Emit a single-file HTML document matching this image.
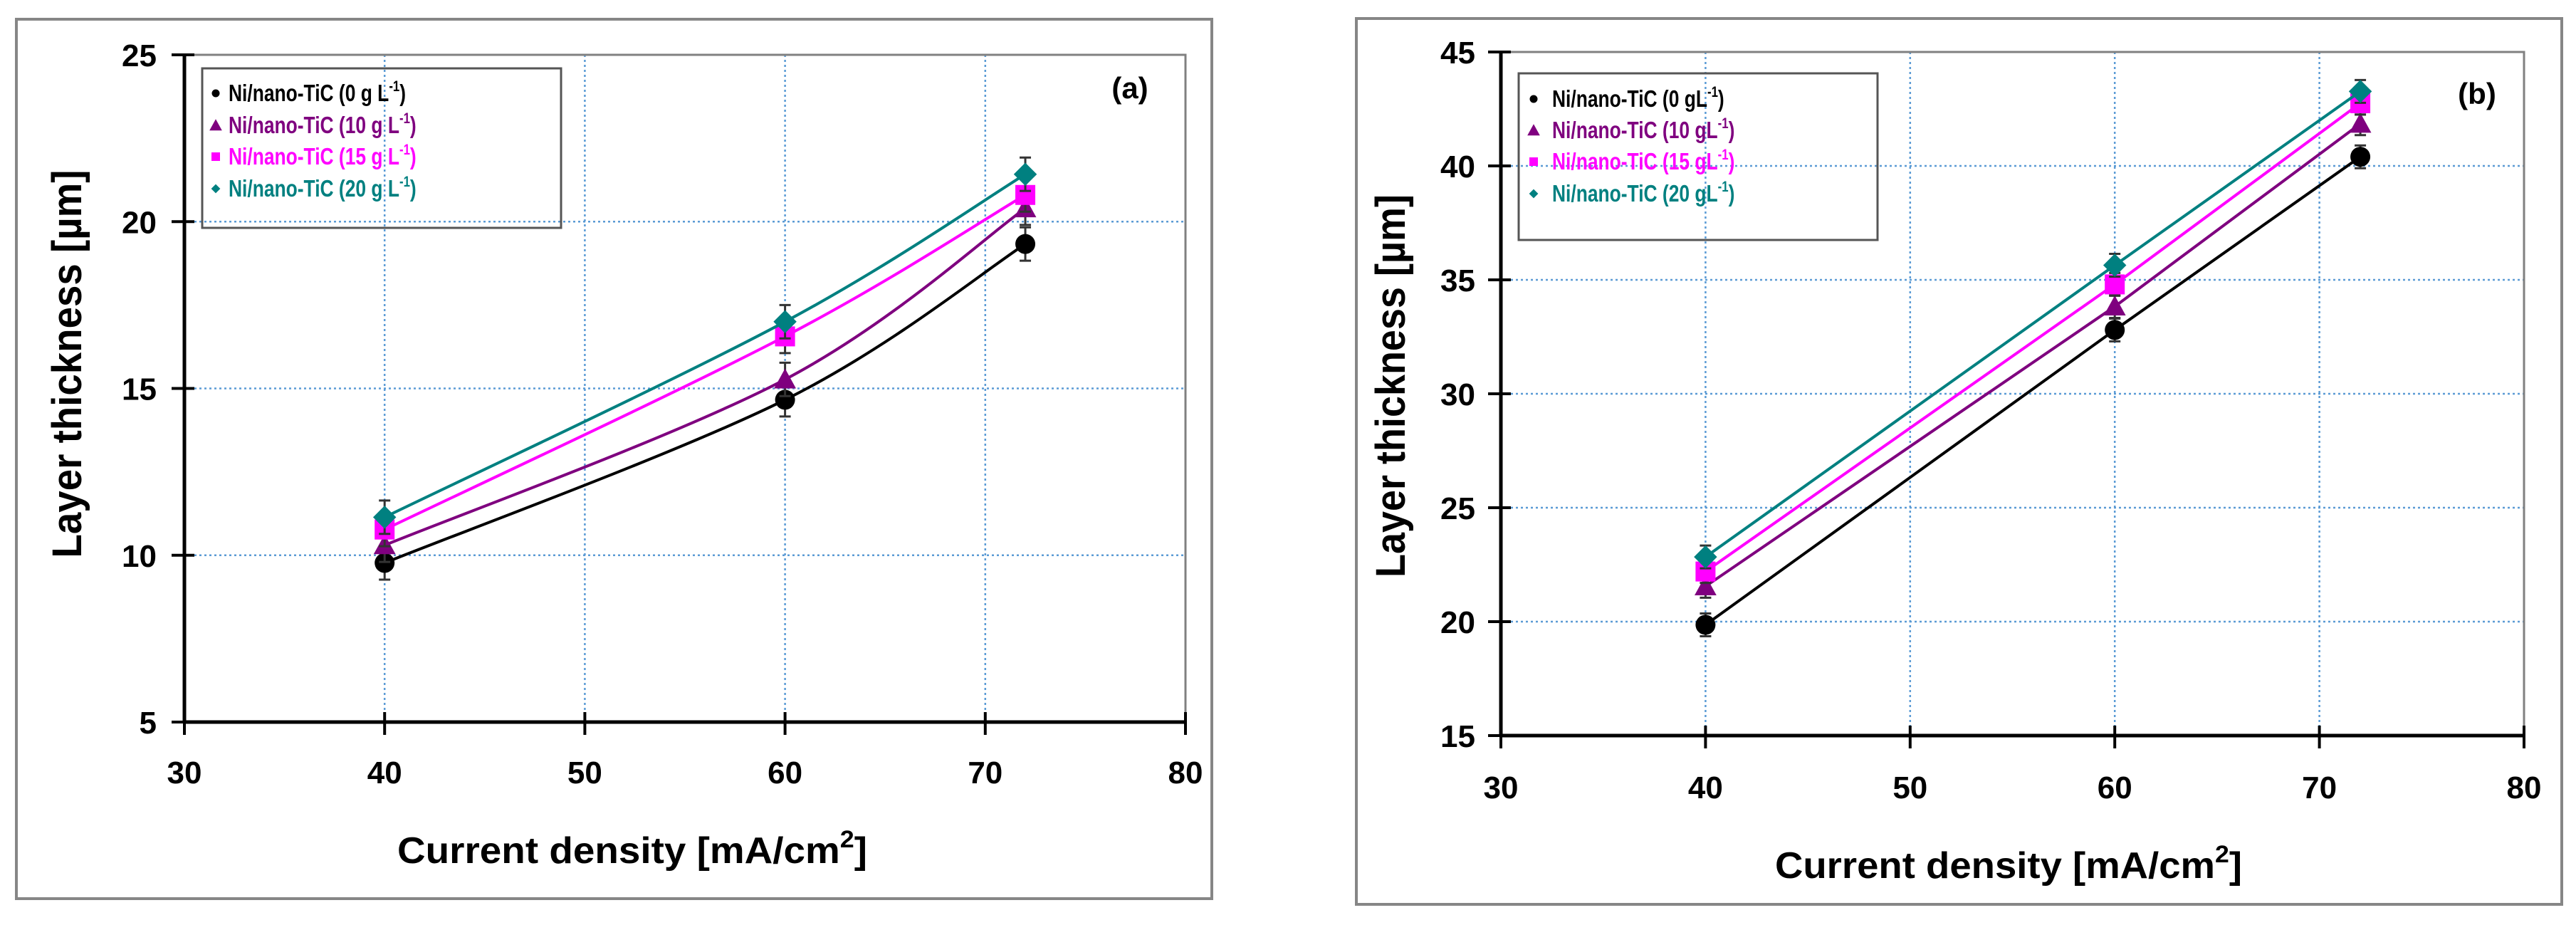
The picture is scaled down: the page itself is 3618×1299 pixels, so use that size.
<!DOCTYPE html>
<html><head><meta charset="utf-8">
<style>
html,body{margin:0;padding:0;background:#fff;}
svg{display:block;font-family:"Liberation Sans",sans-serif;}
</style></head>
<body>
<svg id="chart" width="3618" height="1299" viewBox="0 0 3618 1299" xmlns="http://www.w3.org/2000/svg"></svg>
<script>
// ---- data ----
const xValues = [40, 60, 72];
const seriesNames = ["0", "10", "15", "20"];
const seriesColors = ["#000000", "#7f007f", "#ff00ff", "#008080"];
const seriesMarkers = ["circle", "triangle", "square", "diamond"];
const panelAValues0 = [9.77, 14.66, 19.33];
const panelAValues10 = [10.3, 15.27, 20.4];
const panelAValues15 = [10.77, 16.56, 20.8];
const panelAValues20 = [11.14, 17.0, 21.42];
const panelBValues0 = [19.86, 32.8, 40.4];
const panelBValues10 = [21.55, 33.83, 41.85];
const panelBValues15 = [22.2, 34.8, 42.75];
const panelBValues20 = [22.84, 35.64, 43.27];
const errorA = [0.5, 0.5, 0.5, 0.5];
const errorB = [0.5, 0.5, 0.5, 0.5];
const xTicks = [30, 40, 50, 60, 70, 80];
const yTicksA = [5, 10, 15, 20, 25];
const yTicksB = [15, 20, 25, 30, 35, 40, 45];

const NS = "http://www.w3.org/2000/svg";
const svg = document.getElementById("chart");
function mk(tag, attrs, parent) {
  const e = document.createElementNS(NS, tag);
  for (const k in attrs) e.setAttribute(k, attrs[k]);
  (parent || svg).appendChild(e);
  return e;
}

function drawPanel(p) {
  const g = mk("g", {});
  
  
  const xs = v => p.x0 + (v - p.xmin) / (p.xmax - p.xmin) * (p.x1 - p.x0);
  const ys = v => p.y0 - (v - p.ymin) / (p.ymax - p.ymin) * (p.y0 - p.y1);
  // frame
  const fr = mk("rect", {x: p.fx0, y: p.fy0, width: p.fx1 - p.fx0, height: p.fy1 - p.fy0, fill: "none", stroke: "#868686", "stroke-width": 4}, g);
  
  
  // gridlines
  xTicks.forEach(t => {
    if (t === p.xmin || t === p.xmax) return;
    const l = mk("line", {x1: xs(t), x2: xs(t), y1: p.y1, y2: p.y0, stroke: "#5b9bd5", "stroke-width": 2.5, "stroke-dasharray": "3 4"}, g);
    
    
  });
  p.yTicks.forEach(t => {
    if (t === p.ymin || t === p.ymax) return;
    const l = mk("line", {x1: p.x0, x2: p.x1, y1: ys(t), y2: ys(t), stroke: "#5b9bd5", "stroke-width": 2.5, "stroke-dasharray": "3 4"}, g);
    
    
  });
  // plot border top/right
  const pb = mk("polyline", {points: `${p.x0},${p.y1} ${p.x1},${p.y1} ${p.x1},${p.y0}`, fill: "none", stroke: "#808080", "stroke-width": 3}, g);
  
  
  // axes
  const ax = mk("line", {x1: p.x0, x2: p.x1, y1: p.y0, y2: p.y0, stroke: "#000", "stroke-width": 5}, g);
  
  
  const ay = mk("line", {x1: p.x0, x2: p.x0, y1: p.y1, y2: p.y0, stroke: "#000", "stroke-width": 5}, g);
  
  
  xTicks.forEach(t => {
    const tk = mk("line", {x1: xs(t), x2: xs(t), y1: p.y0 - 14, y2: p.y0 + 18, stroke: "#000", "stroke-width": 4}, g);
    
    
    const tl = mk("text", {x: xs(t), y: p.xLabelY, "text-anchor": "middle", "font-size": 44, "font-weight": "bold"}, g);
    tl.textContent = t;
    
    
  });
  p.yTicks.forEach(t => {
    const tk = mk("line", {x1: p.x0 - 18, x2: p.x0 + 14, y1: ys(t), y2: ys(t), stroke: "#000", "stroke-width": 4}, g);
    
    
    const tl = mk("text", {x: p.yLabelX, y: ys(t) + 16, "text-anchor": "end", "font-size": 44, "font-weight": "bold"}, g);
    tl.textContent = t;
    
    
  });
  // axis titles
  const xt = mk("text", {x: p.xtX, y: p.xtY, "font-size": 52, "font-weight": "bold", textLength: p.xtLen, lengthAdjust: "spacingAndGlyphs"}, g);
  xt.innerHTML = 'Current density [mA/cm<tspan dy="-22" font-size="34">2</tspan><tspan dy="22">]</tspan>';
  
  
  const yt = mk("text", {x: 0, y: 0, "font-size": 58, "font-weight": "bold", "text-anchor": "middle", textLength: p.ytLen, lengthAdjust: "spacingAndGlyphs", transform: `translate(${p.ytX},${p.ytY}) rotate(-90)`}, g);
  yt.textContent = "Layer thickness [\u00b5m]";
  
  
  // panel label
  const pl = mk("text", {x: p.labX, y: p.labY, "font-size": 42, "font-weight": "bold", "text-anchor": "middle"}, g);
  pl.textContent = p.label;
  
  

  function marker(kind, cx, cy, col, s, parent) {
    let m;
    if (kind === "circle") m = mk("circle", {cx, cy, r: s * 0.5, fill: col}, parent);
    else if (kind === "square") m = mk("rect", {x: cx - s / 2, y: cy - s / 2, width: s, height: s, fill: col}, parent);
    else if (kind === "triangle") m = mk("polygon", {points: `${cx},${cy - s * 0.55} ${cx + s * 0.55},${cy + s * 0.45} ${cx - s * 0.55},${cy + s * 0.45}`, fill: col}, parent);
    else m = mk("polygon", {points: `${cx},${cy - s * 0.58} ${cx + s * 0.58},${cy} ${cx},${cy + s * 0.58} ${cx - s * 0.58},${cy}`, fill: col}, parent);
    return m;
  }
  // series
  p.series.forEach((vals, i) => {
    const sg = mk("g", {}, g);
    
    
    const pts = vals.map((v, j) => [xs(xValues[j]), ys(v)]);
    let d = `M${pts[0][0]},${pts[0][1]}`;
    if (p.smooth) {
      for (let j = 0; j < pts.length - 1; j++) {
        const p0 = pts[Math.max(j - 1, 0)], p1 = pts[j], p2 = pts[j + 1], p3 = pts[Math.min(j + 2, pts.length - 1)];
        const c1 = [p1[0] + (p2[0] - p0[0]) / 6, p1[1] + (p2[1] - p0[1]) / 6];
        const c2 = [p2[0] - (p3[0] - p1[0]) / 6, p2[1] - (p3[1] - p1[1]) / 6];
        d += ` C${c1[0]},${c1[1]} ${c2[0]},${c2[1]} ${p2[0]},${p2[1]}`;
      }
    } else {
      pts.slice(1).forEach(q => d += ` L${q[0]},${q[1]}`);
    }
    const ln = mk("path", {d, fill: "none", stroke: seriesColors[i], "stroke-width": 4}, sg);
    
    
    vals.forEach((v, j) => {
      const cx = xs(xValues[j]), cy = ys(v);
      const e = p.err[i];
      const eb = mk("path", {d: `M${cx},${ys(v + e)} V${ys(v - e)} M${cx - 8},${ys(v + e)} H${cx + 8} M${cx - 8},${ys(v - e)} H${cx + 8}`, stroke: "#333", "stroke-width": 3, fill: "none"}, sg);
      
      
      const m = marker(seriesMarkers[i], cx, cy, seriesColors[i], 28, sg);
      
      
    });
  });
  // legend
  const lg = mk("g", {}, g);
  
  
  const lb = mk("rect", {x: p.lx0, y: p.ly0, width: p.lx1 - p.lx0, height: p.ly1 - p.ly0, fill: "#fff", "fill-opacity": 0, stroke: "#555", "stroke-width": 3}, lg);
  
  
  seriesNames.forEach((n, i) => {
    const base = p.legRows[i];
    const ms = [11, 16, 12, 11][i];
    const m = marker(seriesMarkers[i], p.legMX, base - 11, seriesColors[i], ms, lg);
    
    
    const t = mk("text", {x: 0, y: 0, fill: seriesColors[i], "font-size": 33, "font-weight": "bold", transform: `translate(${p.legTX},${base}) scale(0.8,1)`}, lg);
    t.innerHTML = `Ni/nano-TiC (${n}${p.gsep}L<tspan dy="-14" font-size="21">-1</tspan><tspan dy="14">)</tspan>`;
    
    
  });
}

drawPanel({
  name: "panel-a", label: "(a)", smooth: true,
  fx0: 23, fy0: 27, fx1: 1702, fy1: 1262,
  x0: 259, x1: 1665, y0: 1014, y1: 77, xmin: 30, xmax: 80, ymin: 5, ymax: 25,
  yTicks: yTicksA, xLabelY: 1100, yLabelX: 220,
  xtX: 558, xtY: 1212, xtLen: 660, ytX: 114, ytY: 511, ytLen: 545,
  labX: 1587, labY: 138,
  series: [panelAValues0, panelAValues10, panelAValues15, panelAValues20], err: errorA,
  lx0: 284, ly0: 96, lx1: 788, ly1: 320,
  legRows: [142, 187, 231, 276], legMX: 303, legTX: 321, gsep: " g "
});
drawPanel({
  name: "panel-b", label: "(b)", smooth: false,
  fx0: 1905, fy0: 26, fx1: 3598, fy1: 1270,
  x0: 2108, x1: 3545, y0: 1033, y1: 73, xmin: 30, xmax: 80, ymin: 15, ymax: 45,
  yTicks: yTicksB, xLabelY: 1121, yLabelX: 2072,
  xtX: 2493, xtY: 1233, xtLen: 656, ytX: 1973, ytY: 542, ytLen: 538,
  labX: 3479, labY: 146,
  series: [panelBValues0, panelBValues10, panelBValues15, panelBValues20], err: errorB,
  lx0: 2133, ly0: 103, lx1: 2637, ly1: 337,
  legRows: [150, 194, 238, 283], legMX: 2154, legTX: 2180, gsep: " g"
});
</script>
</body></html>
